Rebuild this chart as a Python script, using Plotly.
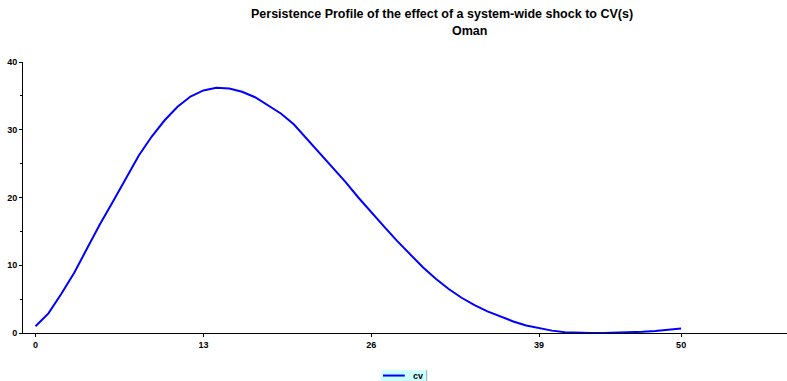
import plotly.graph_objects as go

# Persistence profile of a system-wide shock to CV(s), Oman (horizons 0..50)
horizon = list(range(51))
cv = [
    1.0, 2.9, 5.8, 8.9, 12.5, 16.1, 19.4, 22.8, 26.2, 29.0,
    31.4, 33.4, 34.9, 35.8, 36.2, 36.1, 35.6, 34.8, 33.6, 32.4,
    30.8, 28.7, 26.6, 24.5, 22.3, 20.0, 17.8, 15.7, 13.6, 11.6,
    9.7, 8.0, 6.5, 5.2, 4.1, 3.2, 2.4, 1.7, 1.1, 0.7,
    0.35, 0.12, 0.02, 0.0, 0.0, 0.03, 0.08, 0.17, 0.3, 0.47, 0.68,
]
x_ticks = [0, 13, 26, 39, 50]
y_ticks = [0, 10, 20, 30, 40]

series_name = "cv"
title_line1 = "Persistence Profile of the effect of a system-wide shock to CV(s)"
title_line2 = "Oman"

FONT = "Liberation Sans, Arial, sans-serif"
LINE_COLOR = "#0000ff"

fig = go.Figure()
fig.add_trace(go.Scatter(
    x=horizon, y=cv, mode="lines", name=series_name,
    line=dict(color=LINE_COLOR, width=2),
))

tick_font = dict(family=FONT, size=9, color="#000000", weight="bold")

# Small boxed legend key below the x axis (paper coordinates)
legend_shapes = [
    dict(type="rect", xref="paper", yref="paper",
         x0=0.4686, x1=0.5296, y0=-0.177, y1=-0.137,
         fillcolor="#ccffff", line=dict(width=0), layer="below"),
    dict(type="line", xref="paper", yref="paper",
         x0=0.5283, x1=0.5283, y0=-0.177, y1=-0.137,
         line=dict(color="#aaaaaa", width=1)),
    dict(type="line", xref="paper", yref="paper",
         x0=0.4712, x1=0.4997, y0=-0.157, y1=-0.157,
         line=dict(color=LINE_COLOR, width=2)),
]

fig.update_layout(
    width=787, height=381,
    margin=dict(l=23, r=0, t=62, b=48),
    paper_bgcolor="white", plot_bgcolor="white",
    showlegend=False,
    xaxis=dict(
        range=[-0.97, 58.2], tickvals=x_ticks, ticktext=[str(v) for v in x_ticks],
        showgrid=False, zeroline=False, showline=True, linecolor="#000000", linewidth=1,
        ticks="outside", ticklen=3, tickcolor="#000000",
        tickfont=tick_font,
    ),
    yaxis=dict(
        range=[0, 40], tickvals=y_ticks, ticktext=[str(v) for v in y_ticks],
        showgrid=False, zeroline=False, showline=True, linecolor="#000000", linewidth=1,
        ticks="outside", ticklen=3, tickcolor="#000000",
        tickfont=tick_font,
        minor=dict(dtick=5, ticks="outside", ticklen=2, tickcolor="#000000"),
    ),
    shapes=legend_shapes,
    annotations=[
        dict(text=title_line1, xref="paper", yref="paper", x=0.548, y=1.177,
             xanchor="center", yanchor="middle", showarrow=False,
             font=dict(family=FONT, size=12.5, color="#000000", weight="bold")),
        dict(text=title_line2, xref="paper", yref="paper", x=0.585, y=1.114,
             xanchor="center", yanchor="middle", showarrow=False,
             font=dict(family=FONT, size=12.5, color="#000000", weight="bold")),
        dict(text=series_name, xref="paper", yref="paper", x=0.508, y=-0.157,
             xanchor="left", yanchor="middle", showarrow=False,
             font=dict(family=FONT, size=9, color="#000000", weight="bold")),
    ],
)

fig.write_html("out.html")
